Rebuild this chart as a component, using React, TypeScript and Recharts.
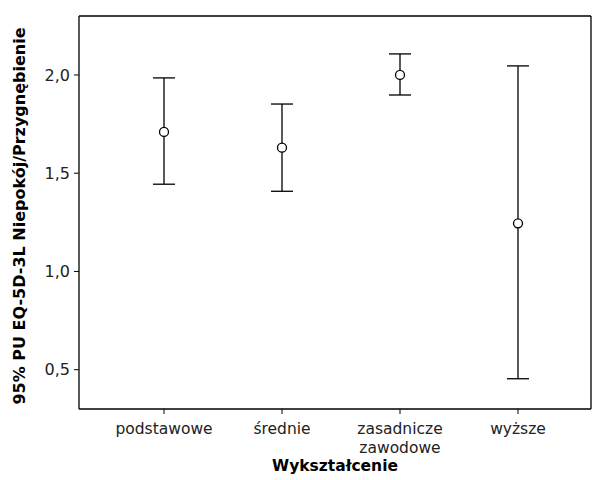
import { ComposedChart, XAxis, YAxis, Line, ErrorBar } from "recharts";

// Wykształcenie vs 95% PU EQ-5D-3L Niepokój/Przygnębienie
const categories = ["podstawowe", "średnie", "zasadnicze\nzawodowe", "wyższe"];
const means = [1.71, 1.63, 2.0, 1.245];
const lower = [1.444, 1.408, 1.898, 0.454];
const upper = [1.985, 1.852, 2.107, 2.046];
const yTicks = [0.5, 1.0, 1.5, 2.0];

const data = categories.map((cat, i) => ({
  cat,
  mean: means[i],
  err: [means[i] - lower[i], upper[i] - means[i]],
}));

const FONT = "'DejaVu Sans', sans-serif";

const CatTick = (props: any) => {
  const { x, y, payload } = props;
  const lines = String(payload.value).split("\n");
  return (
    <text x={x} y={y + 3} textAnchor="middle" fill="#222" fontSize={15.5} fontFamily={FONT}>
      {lines.map((l, i) => (
        <tspan key={i} x={x} dy={i === 0 ? 15 : 19}>
          {l}
        </tspan>
      ))}
    </text>
  );
};

const App: React.FC = () => {
  return (
    <div style={{ position: "absolute", left: 0, top: 0 }}>
      <ComposedChart
        width={592}
        height={480}
        data={data}
        margin={{ top: 15, right: 0, left: 0, bottom: 0 }}
        style={{ fontFamily: FONT }}
      >
        <XAxis
          dataKey="cat"
          height={71}
          padding={{ left: 85, right: 73 }}
          axisLine={{ stroke: "#000", strokeWidth: 1.3 }}
          tickLine={{ stroke: "#000" }}
          tickSize={5}
          tick={<CatTick />}
          interval={0}
          label={{
            content: () => (
              <text
                x={335}
                y={466}
                textAnchor="middle"
                dominantBaseline="central"
                fontSize={15.5}
                fontWeight="bold"
                fill="#000"
                fontFamily={FONT}
              >
                Wykształcenie
              </text>
            ),
          }}
        />
        <XAxis
          xAxisId="top"
          dataKey="cat"
          orientation="top"
          height={1}
          padding={{ left: 85, right: 73 }}
          tick={false}
          tickLine={false}
          axisLine={{ stroke: "#000", strokeWidth: 1.3 }}
        />
        <YAxis
          type="number"
          domain={[0.3, 2.3]}
          ticks={yTicks}
          width={79}
          allowDataOverflow
          axisLine={{ stroke: "#000", strokeWidth: 1.3 }}
          tickLine={{ stroke: "#000" }}
          tickSize={5}
          tickMargin={4}
          tick={{ fontSize: 16, fill: "#222", fontFamily: FONT }}
          tickFormatter={(v: number) => v.toFixed(1).replace(".", ",")}
          label={{
            content: () => (
              <text
                x={19}
                y={216}
                transform="rotate(-90, 19, 216)"
                textAnchor="middle"
                dominantBaseline="central"
                fontSize={16}
                fontWeight="bold"
                fill="#000"
                fontFamily={FONT}
              >
                95% PU EQ-5D-3L Niepokój/Przygnębienie
              </text>
            ),
          }}
        />
        <YAxis
          yAxisId="right"
          orientation="right"
          type="number"
          domain={[0.3, 2.3]}
          allowDataOverflow
          width={1}
          tick={false}
          tickLine={false}
          axisLine={{ stroke: "#000", strokeWidth: 1.3 }}
        />
        <Line
          dataKey="mean"
          stroke="none"
          isAnimationActive={false}
          activeDot={false}
          dot={{ r: 4.5, fill: "#fff", stroke: "#000", strokeWidth: 1.3 }}
        >
          <ErrorBar dataKey="err" width={11} stroke="#000" strokeWidth={1.3} direction="y" />
        </Line>
      </ComposedChart>
    </div>
  );
};

export default App;
